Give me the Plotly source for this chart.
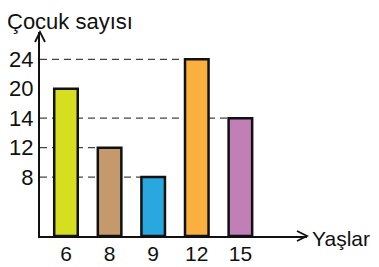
import plotly.graph_objects as go

ages = ["6", "8", "9", "12", "15"]
counts = [20, 12, 8, 24, 14]
colors = ["#d5df20", "#c49a6c", "#29a8e0", "#fbaf3f", "#c17fb7"]
y_tick_labels = [8, 12, 14, 20, 24]
y_label = "Çocuk sayısı"
x_label = "Yaşlar"

# ordinal (evenly spaced) y scale as in the drawing
pos = {v: i + 2 for i, v in enumerate(y_tick_labels)}
ypos = [pos[c] for c in counts]
xidx = list(range(len(ages)))

OFF = 8  # default page body margin
W, H = 379 - OFF, 267 - OFF
# plot area in window pixels: x 40..307, y 32..236
L, T = 40 - OFF, 32 - OFF
R = W - (307 - OFF)
B = H - (236 - OFF)
pw, ph = W - L - R, H - T - B
bw = 0.54
x0 = -0.596
x1 = x0 + pw / 43.6
y1 = ph / 29.45

fig = go.Figure(go.Bar(
    x=xidx, y=ypos, width=bw,
    marker=dict(color=colors, line=dict(color="#111111", width=2.5)),
    hoverinfo="skip",
))

shapes = []
for i, yp in enumerate(ypos):
    if i == 0:
        continue
    shapes.append(dict(type="line", xref="x", yref="y", x0=x0, x1=i - bw / 2,
                       y0=yp, y1=yp, layer="below",
                       line=dict(color="#444444", width=1.2, dash="7px,5px")))

def px(x):  # window pixel -> paper
    return (x - OFF - L) / pw

def py(y):
    return (H - B - (y - OFF)) / ph

# arrowheads
shapes.append(dict(type="path", xref="paper", yref="paper",
                   path=f"M{px(35)},{py(42)} L{px(40)},{py(32)} L{px(45)},{py(42)}",
                   line=dict(color="#111111", width=1.8)))
shapes.append(dict(type="path", xref="paper", yref="paper",
                   path=f"M{px(297)},{py(231)} L{px(307)},{py(236)} L{px(297)},{py(241)}",
                   line=dict(color="#111111", width=1.8)))

fig.update_layout(
    width=W, height=H,
    margin=dict(l=L, r=R, t=T, b=B, autoexpand=False),
    paper_bgcolor="white", plot_bgcolor="white",
    showlegend=False,
    font=dict(family="Liberation Sans, Arial, sans-serif", size=22, color="#111111"),
    shapes=shapes,
    annotations=[
        dict(text=y_label, xref="paper", yref="paper", x=px(6), y=py(8),
             xanchor="left", yanchor="top", showarrow=False, borderpad=0,
             font=dict(size=22)),
        dict(text=x_label, xref="paper", yref="paper", x=px(310), y=py(238),
             xanchor="left", yanchor="middle", showarrow=False,
             font=dict(size=21)),
    ],
)
fig.update_xaxes(range=[x0, x1], tickvals=xidx, ticktext=ages, automargin=False,
                 tickfont=dict(size=21), ticklabelstandoff=-2,
                 showline=True, linecolor="#111111", linewidth=2,
                 showgrid=False, zeroline=False, ticks="", fixedrange=True)
fig.update_yaxes(range=[0, y1], tickvals=[pos[v] for v in y_tick_labels],
                 ticktext=[str(v) for v in y_tick_labels], automargin=False,
                 showline=True, linecolor="#111111", linewidth=2,
                 showgrid=False, zeroline=False, ticks="", fixedrange=True)

fig.write_html("out.html")
